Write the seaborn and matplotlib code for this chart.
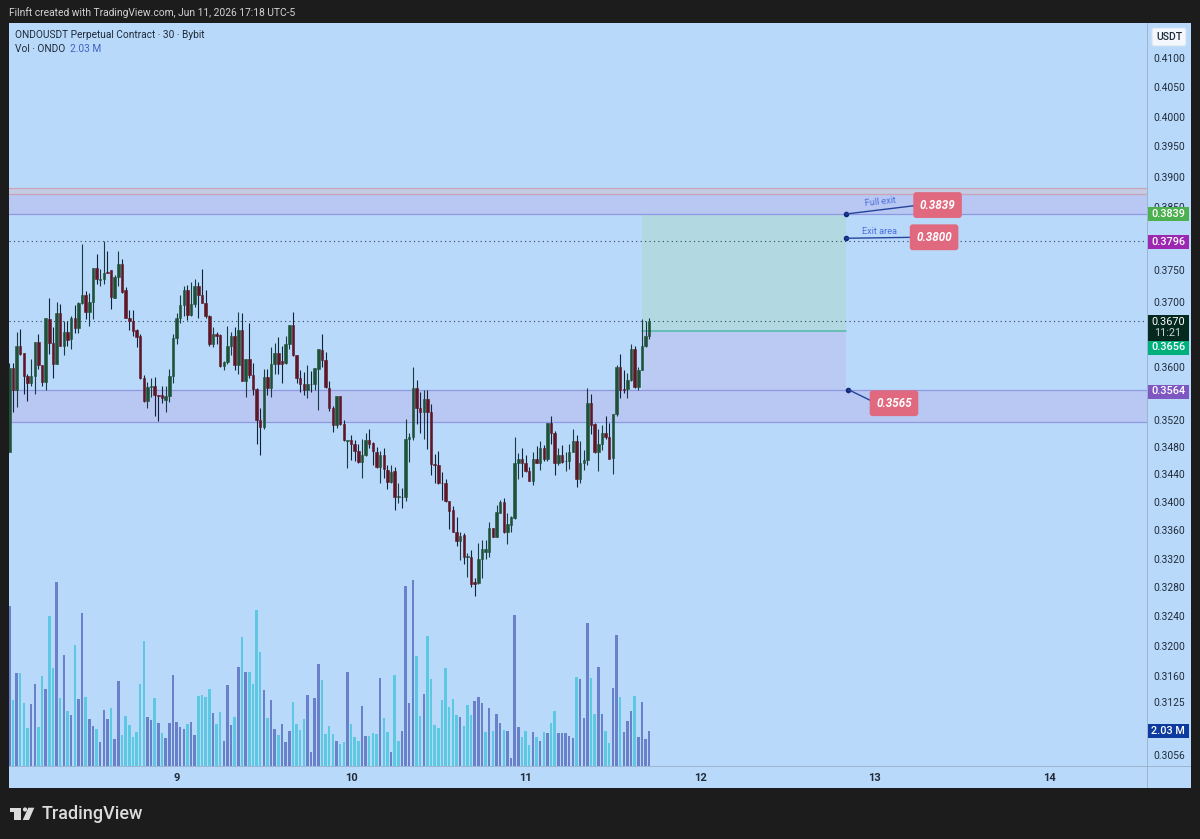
import matplotlib
matplotlib.use("Agg")
import matplotlib.pyplot as plt
import numpy as np
import pandas as pd
import seaborn as sns
from matplotlib.patches import Circle, FancyBboxPatch, Polygon, Rectangle
from matplotlib.ticker import FixedFormatter, FixedLocator, NullLocator
from matplotlib.transforms import IdentityTransform

# ONDOUSDT 30-minute candles, quoted in price ticks of 0.0001
opens = [
    3472, 3598, 3564, 3632, 3621, 3586, 3575, 3585, 3638, 3602,
    3577, 3673, 3636, 3604, 3682, 3632, 3653, 3642, 3675, 3659,
    3697, 3710, 3683, 3700, 3753, 3734, 3735, 3747, 3749, 3706,
    3739, 3759, 3718, 3674, 3669, 3656, 3647, 3582, 3548, 3569,
    3570, 3557, 3557, 3550, 3556, 3586, 3643, 3674, 3695, 3718,
    3679, 3696, 3725, 3710, 3698, 3677, 3635, 3649, 3648, 3601,
    3607, 3632, 3646, 3603, 3656, 3578, 3611, 3587, 3566, 3520,
    3510, 3584, 3567, 3604, 3621, 3608, 3606, 3635, 3664, 3618,
    3583, 3573, 3565, 3574, 3573, 3596, 3625, 3610, 3568, 3537,
    3513, 3555, 3514, 3489, 3490, 3485, 3474, 3458, 3468, 3490,
    3486, 3473, 3450, 3468, 3447, 3429, 3445, 3407, 3408, 3407,
    3491, 3495, 3567, 3537, 3532, 3551, 3532, 3455, 3454, 3428,
    3428, 3401, 3388, 3358, 3345, 3353, 3322, 3322, 3287, 3286,
    3319, 3329, 3329, 3363, 3351, 3385, 3400, 3357, 3368, 3377,
    3457, 3462, 3457, 3445, 3431, 3463, 3456, 3479, 3463, 3515,
    3501, 3457, 3468, 3459, 3460, 3473, 3488, 3433, 3456, 3461,
    3545, 3514, 3473, 3484, 3500, 3495, 3464, 3528, 3599, 3566,
    3566, 3579, 3626, 3569, 3595, 3631, 3646,
]
highs = [
    3605, 3605, 3652, 3658, 3621, 3589, 3612, 3638, 3649, 3603,
    3674, 3705, 3660, 3700, 3696, 3670, 3670, 3677, 3695, 3699,
    3791, 3717, 3713, 3753, 3775, 3751, 3796, 3779, 3750, 3741,
    3780, 3767, 3723, 3687, 3687, 3657, 3649, 3587, 3576, 3583,
    3584, 3557, 3571, 3570, 3596, 3649, 3682, 3710, 3725, 3726,
    3731, 3736, 3730, 3751, 3718, 3679, 3661, 3653, 3649, 3608,
    3662, 3653, 3661, 3683, 3682, 3611, 3666, 3605, 3567, 3538,
    3596, 3596, 3629, 3636, 3645, 3631, 3646, 3664, 3683, 3618,
    3595, 3591, 3603, 3593, 3597, 3627, 3649, 3622, 3578, 3540,
    3555, 3556, 3520, 3490, 3497, 3490, 3485, 3492, 3500, 3507,
    3487, 3480, 3474, 3478, 3453, 3453, 3451, 3428, 3420, 3521,
    3500, 3599, 3579, 3562, 3564, 3565, 3543, 3469, 3474, 3444,
    3433, 3401, 3394, 3379, 3358, 3356, 3328, 3332, 3293, 3342,
    3346, 3346, 3372, 3363, 3396, 3403, 3406, 3384, 3380, 3495,
    3471, 3478, 3468, 3450, 3473, 3482, 3489, 3483, 3516, 3525,
    3503, 3478, 3483, 3473, 3485, 3507, 3497, 3488, 3475, 3567,
    3559, 3516, 3507, 3513, 3525, 3516, 3528, 3602, 3619, 3594,
    3590, 3635, 3631, 3599, 3673, 3670, 3675,
]
lows = [
    3472, 3532, 3539, 3617, 3558, 3548, 3570, 3559, 3596, 3570,
    3565, 3619, 3582, 3604, 3631, 3618, 3631, 3627, 3651, 3651,
    3696, 3673, 3662, 3673, 3727, 3725, 3728, 3745, 3688, 3705,
    3725, 3713, 3674, 3656, 3647, 3630, 3581, 3547, 3538, 3554,
    3526, 3518, 3545, 3532, 3547, 3575, 3635, 3667, 3678, 3672,
    3678, 3692, 3674, 3697, 3675, 3631, 3630, 3634, 3600, 3594,
    3604, 3618, 3594, 3588, 3578, 3554, 3583, 3557, 3485, 3468,
    3507, 3557, 3554, 3588, 3588, 3575, 3604, 3627, 3616, 3575,
    3562, 3557, 3553, 3561, 3564, 3534, 3599, 3568, 3533, 3502,
    3508, 3513, 3489, 3449, 3461, 3460, 3457, 3434, 3466, 3478,
    3454, 3449, 3428, 3434, 3419, 3428, 3389, 3398, 3392, 3402,
    3458, 3490, 3514, 3501, 3492, 3477, 3439, 3428, 3426, 3403,
    3400, 3361, 3357, 3338, 3318, 3312, 3294, 3281, 3268, 3285,
    3293, 3319, 3322, 3350, 3351, 3384, 3356, 3341, 3357, 3376,
    3433, 3436, 3444, 3431, 3425, 3456, 3446, 3460, 3460, 3484,
    3439, 3453, 3457, 3445, 3448, 3472, 3421, 3427, 3446, 3453,
    3499, 3471, 3445, 3475, 3492, 3462, 3440, 3525, 3552, 3560,
    3552, 3578, 3568, 3565, 3595, 3630, 3642,
]
closes = [
    3598, 3564, 3632, 3619, 3585, 3575, 3585, 3638, 3602, 3577,
    3674, 3636, 3604, 3682, 3632, 3653, 3641, 3675, 3659, 3697,
    3710, 3683, 3700, 3753, 3735, 3736, 3745, 3745, 3707, 3739,
    3759, 3715, 3674, 3669, 3654, 3645, 3582, 3548, 3569, 3571,
    3557, 3556, 3552, 3556, 3586, 3643, 3674, 3695, 3718, 3679,
    3696, 3725, 3710, 3698, 3677, 3635, 3649, 3647, 3601, 3607,
    3632, 3647, 3603, 3656, 3578, 3611, 3587, 3566, 3520, 3510,
    3584, 3567, 3604, 3621, 3604, 3604, 3635, 3664, 3618, 3583,
    3573, 3565, 3574, 3573, 3597, 3626, 3610, 3569, 3537, 3513,
    3555, 3514, 3490, 3490, 3485, 3474, 3458, 3468, 3490, 3484,
    3474, 3450, 3468, 3448, 3429, 3444, 3408, 3409, 3407, 3492,
    3495, 3568, 3537, 3532, 3551, 3532, 3455, 3453, 3427, 3427,
    3401, 3387, 3358, 3345, 3352, 3322, 3324, 3285, 3285, 3319,
    3334, 3334, 3363, 3351, 3386, 3400, 3358, 3369, 3378, 3457,
    3462, 3457, 3445, 3431, 3463, 3456, 3479, 3463, 3515, 3500,
    3457, 3468, 3458, 3460, 3473, 3488, 3433, 3456, 3461, 3545,
    3513, 3473, 3484, 3500, 3495, 3463, 3528, 3600, 3565, 3564,
    3580, 3626, 3569, 3595, 3631, 3646, 3670,
]

# Traded volume per candle, in millions of ONDO
volumes = [
    9.28, 3.83, 5.37, 5.37, 3.63, 2.20, 3.60, 4.76, 2.24, 5.22,
    4.45, 8.70, 5.68, 10.69, 3.92, 6.44, 3.19, 2.96, 7.04, 3.87,
    8.89, 3.98, 2.71, 2.32, 2.15, 1.37, 3.25, 2.73, 3.34, 1.57,
    4.93, 1.80, 2.90, 2.36, 1.70, 1.95, 4.76, 7.25, 2.86, 2.67,
    3.92, 2.51, 1.89, 1.60, 2.51, 5.26, 2.55, 2.24, 2.13, 2.44,
    2.55, 1.80, 4.06, 4.12, 3.98, 4.45, 3.05, 2.44, 3.11, 1.45,
    4.68, 2.38, 2.82, 5.76, 7.48, 5.47, 5.43, 4.76, 9.05, 6.59,
    4.39, 2.78, 3.83, 2.15, 1.80, 2.44, 1.41, 2.03, 3.71, 2.44,
    2.09, 2.73, 4.10, 0.83, 3.92, 5.90, 4.99, 1.86, 2.32,
    1.86, 1.47, 1.28, 1.39, 5.43, 2.44, 1.70, 1.45, 3.48, 1.74,
    1.74, 1.89, 1.86, 5.08, 2.80, 1.95, 0.79, 5.26, 1.45, 2.03,
    10.44, 3.63, 10.79, 6.38, 2.90, 4.18, 7.54, 5.03, 2.38, 2.20,
    3.83, 5.66, 3.42, 3.87, 2.98, 2.86, 2.32, 3.54, 2.96, 3.77,
    4.02, 3.67, 1.95, 3.34, 2.03, 3.00, 2.47, 2.09, 2.03, 0.46,
    8.76, 2.28, 1.68, 2.03, 1.22, 1.99, 1.66, 1.45, 1.95, 1.93,
    2.47, 3.19, 1.89, 1.89, 1.93, 1.74, 1.60, 5.14, 5.05, 2.76,
    8.31, 5.08, 3.02, 5.76, 3.02, 2.03, 1.33, 4.50, 7.58, 3.98,
    1.99, 2.61, 3.19, 4.06, 1.66, 3.71, 1.57, 2.03,
]
# c = buyer-side bar, d = seller-side bar
volume_sides = (
    "dcdcccddcc" "dccdcdcdcd" "dcddcdddcd" "dcccccccdd"
    "cdcddddddc" "ddccccdccd" "ddcdcdcccc" "dcddcdddcc"
    "ccddddccc"
    "cdccdcccdd" "cccdccdccd" "dddccdcccc" "cccccdcccd"
    "ddcdcddcdd" "ddcccdcdcd" "ccdddddcdd" "dccddccddc"
    "dddcdddd"
)

price_ticks = [0.4100, 0.4050, 0.4000, 0.3950, 0.3900, 0.3850, 0.3750, 0.3700,
               0.3600, 0.3520, 0.3480, 0.3440, 0.3400, 0.3360, 0.3320, 0.3280,
               0.3240, 0.3200, 0.3160, 0.3125, 0.3056]
day_positions = [46, 94, 142, 190, 238, 286]
day_labels = ["9", "10", "11", "12", "13", "14"]

zone_low = [0.3517, 0.3564]
zone_high = [0.3839, 0.3872]
band_top = [0.3872, 0.3881]
position_bars = [174, 230]
entry_price = 0.3654
target_price = 0.3839
stop_price = 0.3564
dotted_levels = [0.3796, 0.3670]

TICK = 1e-4
PANEL = "#b9d9fa"
DARK = "#1c1c1c"
INK = "#1f2b3a"
UP_BODY, DOWN_BODY = "#1d5238", "#5f1626"
VOL_UP, VOL_DOWN = "#5cc8e2", "#6a80c8"

sns.set_theme(style="white")
plt.rcParams["font.family"] = ["Roboto", "DejaVu Sans"]

fig = plt.figure(figsize=(12, 8.39), dpi=100, facecolor=DARK)
W, H = 1200, 839
ID = IdentityTransform()


def rect_px(x0, y0, x1, y1, color, **kw):
    fig.add_artist(Rectangle((x0, H - y1), x1 - x0, y1 - y0, transform=ID,
                             facecolor=color, edgecolor="none", **kw))


def text_px(x, y, s, **kw):
    kw.setdefault("va", "center")
    kw.setdefault("zorder", 12)
    fig.text(x, H - y, s, transform=ID, **kw)


rect_px(9, 23, 1191, 788, PANEL, zorder=0)

pos = [9 / W, 1 - 766 / H, 1138 / W, 743 / H]

# Volume pane shares the candle pane's rectangle, anchored on the bottom edge
ax_vol = fig.add_axes(pos, zorder=1, facecolor="none")
vol_df = pd.DataFrame({"bar": np.arange(len(volumes)), "volume": volumes,
                       "side": list(volume_sides)})
sns.barplot(data=vol_df, x="bar", y="volume", hue="side", native_scale=True,
            palette={"c": VOL_UP, "d": VOL_DOWN}, dodge=False, width=0.68,
            saturation=1, linewidth=0, errorbar=None, legend=False, ax=ax_vol)
ax_vol.set_xlim(-0.08, 312.9)
ax_vol.set_ylim(0, 43.1)
ax_vol.axis("off")

ax = fig.add_axes(pos, zorder=2, facecolor="none")
ax.set_yscale("log")
ax.set_xlim(-0.08, 312.9)
ax.set_ylim(0.3042, 0.4161)

# Horizontal supply and demand zones
ax.axhspan(*zone_low, color="#b8c8f2", lw=0, zorder=1)
ax.axhspan(*zone_high, color="#b8c8f2", lw=0, zorder=1)
ax.axhspan(*band_top, color="#c4cce4", lw=0, zorder=1)
for level in (zone_low[0], zone_low[1], zone_high[0]):
    ax.axhline(level, color="#9198e2", lw=0.9, zorder=2)
for level in band_top:
    ax.axhline(level, color="#c9a3b8", lw=0.9, zorder=2)

# Long position box with its entry line
ax.fill_between(position_bars, entry_price, target_price, color="#b2d9e2", lw=0, zorder=1.5)
ax.fill_between(position_bars, stop_price, entry_price, color="#bacaf3", lw=0, zorder=1.5)
ax.plot(position_bars, [entry_price, entry_price], color="#4fb9a8", lw=1.1, zorder=2)

for level in dotted_levels:
    ax.axhline(level, color="#34465e", lw=0.8, ls=(0, (1, 3)), zorder=2.5)

# Candles
o, h, l, c = [np.array(a) * TICK for a in (opens, highs, lows, closes)]
bars = np.arange(len(o))
rising = c >= o
ax.vlines(bars, l, h, color=np.where(rising, "#1a3a42", "#10233a"), lw=0.8, zorder=3)
ax.bar(bars, np.abs(c - o), bottom=np.minimum(o, c), width=0.68,
       color=np.where(rising, UP_BODY, DOWN_BODY),
       edgecolor=np.where(rising, UP_BODY, DOWN_BODY), linewidth=0.4, zorder=4)

# Axis furniture
ax.yaxis.tick_right()
ax.yaxis.set_major_locator(FixedLocator(price_ticks))
ax.yaxis.set_major_formatter(FixedFormatter([f"{p:.4f}" for p in price_ticks]))
ax.yaxis.set_minor_locator(NullLocator())
ax.xaxis.set_major_locator(FixedLocator(day_positions))
ax.xaxis.set_major_formatter(FixedFormatter(day_labels))
ax.xaxis.set_minor_locator(NullLocator())
ax.tick_params(axis="y", length=0, pad=4.6, labelsize=7.4, labelcolor=INK)
ax.tick_params(axis="x", length=0, pad=4.8, labelsize=8, labelcolor=INK)
for t in ax.get_xticklabels():
    t.set_fontweight("bold")
for s in ax.spines.values():
    s.set_visible(False)

rect_px(9, 765.6, 1191, 766.6, "#9db5d0", zorder=5)
rect_px(1146.6, 23, 1147.6, 788, "#9db5d0", zorder=5)

# Drawn annotations on the position box
callouts = [
    (230.0, target_price, "0.3839", (92, 9)),
    (230.0, 0.3800, "0.3800", (88.5, 1)),
    (230.8, 0.3565, "0.3565", (45.5, -13.5)),
]
for bx, price, label, offset in callouts:
    ax.plot([bx], [price], "o", color="#14287a", ms=3, zorder=7)
    ax.annotate(label, xy=(bx, price), xytext=offset, textcoords="offset pixels",
                ha="center", va="center", color="white", fontsize=8.4,
                fontweight="bold", fontstyle="italic", zorder=8,
                bbox=dict(boxstyle="round,pad=0.55,rounding_size=0.25",
                          fc="#e0697f", ec="none"),
                arrowprops=dict(arrowstyle="-", color="#24449c", lw=1.0,
                                shrinkA=0, shrinkB=0, relpos=(0, 0.5), patchA=None))
text_px(880, 202, "Full exit", color="#4a6ee0", fontsize=6.6, ha="center", rotation=6)
text_px(879, 231, "Exit area", color="#4a6ee0", fontsize=6.6, ha="center")


# Price tags on the right-hand scale
def price_tag(yc, label, color, height=14, fg="white"):
    rect_px(1147.5, yc - height / 2, 1188.5, yc + height / 2, color, zorder=10)
    text_px(1168, yc, label, color=fg, fontsize=7.8, ha="center", fontweight="medium")


price_tag(214.3, "0.3839", "#4caf50")
price_tag(242, "0.3796", "#9c27b0")
rect_px(1147.5, 315, 1188.5, 341, "#06291f", zorder=10)
text_px(1168, 322, "0.3670", color="white", fontsize=7.8, ha="center")
text_px(1168, 333.5, "11:21", color="#c8d4cf", fontsize=7.8, ha="center")
price_tag(347.5, "0.3656", "#00b07c")
price_tag(391.5, "0.3564", "#7e57c2")
price_tag(731, "2.03 M", "#0d3a9e")

fig.add_artist(FancyBboxPatch((1152, H - 46), 34, 18, transform=ID, zorder=10,
                              boxstyle="round,pad=0,rounding_size=2",
                              facecolor="#f4f8fd", edgecolor="#d5e2f2", lw=0.8))
text_px(1169, 37.5, "USDT", color=INK, fontsize=7.6, ha="center", fontweight="medium")

# Header lines
text_px(9, 12.5, "Filnft created with TradingView.com, Jun 11, 2026 17:18 UTC-5",
        color="#d4d4d4", fontsize=7.35)
text_px(15, 35, "ONDOUSDT Perpetual Contract · 30 · Bybit", color=INK, fontsize=7.25)
text_px(15, 49, "Vol · ONDO", color=INK, fontsize=7.25)
text_px(70, 49, "2.03 M", color="#3f63c4", fontsize=7.25)

# Brand mark and wordmark in the footer
mark = "#dcdcdc"
fig.add_artist(Polygon([(10, H - 807.7), (21.3, H - 807.7), (21.3, H - 820), (14.3, H - 820),
                        (14.3, H - 812.3), (10, H - 812.3)], transform=ID, fc=mark, ec="none", zorder=12))
fig.add_artist(Circle((25, H - 809.5), 2.1, transform=ID, fc=mark, ec="none", zorder=12))
fig.add_artist(Polygon([(28.3, H - 807.7), (34.3, H - 807.7), (29, H - 820), (22.7, H - 820)],
                       transform=ID, fc=mark, ec="none", zorder=12))
text_px(41.5, 814, "TradingView", color=mark, fontsize=13, fontweight="medium")

assert len(volumes) == len(o) == len(volume_sides) == 177
fig.savefig("out.png", dpi=100, facecolor=DARK)
